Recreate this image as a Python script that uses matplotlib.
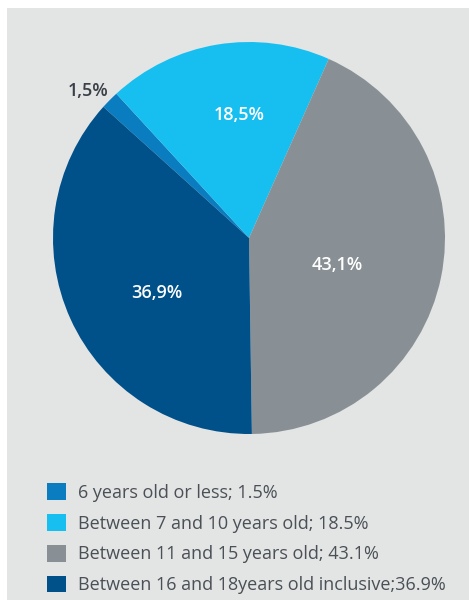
import matplotlib.pyplot as plt
from matplotlib.patches import Patch, Rectangle

# age groups, in legend order
labels = ["6 years old or less; 1.5%",
          "Between 7 and 10 years old; 18.5%",
          "Between 11 and 15 years old; 43.1%",
          "Between 16 and 18years old inclusive;36.9%"]
shares = [1.5, 18.5, 43.1, 36.9]
pct_text = ["1,5%", "18,5%", "43,1%", "36,9%"]
colors = ["#0a7dc0", "#17bff1", "#899095", "#00508a"]

plt.rcParams["font.family"] = ["Open Sans", "DejaVu Sans"]

fig = plt.figure(figsize=(4.69, 6.0), dpi=100)
fig.patch.set_facecolor("white")
# light grey panel behind everything
fig.add_artist(Rectangle((7 / 469, 0), 1, 1 - 8 / 600, transform=fig.transFigure,
                         facecolor="#e3e4e4", edgecolor="none", zorder=-1))

ax = fig.add_axes([53 / 469, 1 - 434 / 600, 392 / 469, 392 / 600])
ax.pie(shares, colors=colors, startangle=138, counterclock=False,
       wedgeprops=dict(linewidth=0))
ax.set_xlim(-1, 1)
ax.set_ylim(-1, 1)
ax.set_aspect("equal")

# percentage labels
label_pos = [(-0.82, 0.75), (-0.05, 0.63), (0.45, -0.14), (-0.47, -0.28)]
for txt, (x, y), i in zip(pct_text, label_pos, range(4)):
    c = "#3a4046" if i == 0 else "white"
    ax.text(x, y, txt, ha="center", va="center", color=c,
            fontsize=13, fontweight="semibold")

handles = [Patch(facecolor=c, edgecolor="none") for c in colors]
fig.legend(handles, labels, loc="upper left",
           bbox_to_anchor=(40 / 469, 1 - 476 / 600), frameon=False,
           fontsize=13, labelcolor="#4a5056", handlelength=1.05, handleheight=1.05,
           handletextpad=0.65, labelspacing=0.68, borderaxespad=0)

fig.savefig("out.png", dpi=100, facecolor=fig.get_facecolor())
